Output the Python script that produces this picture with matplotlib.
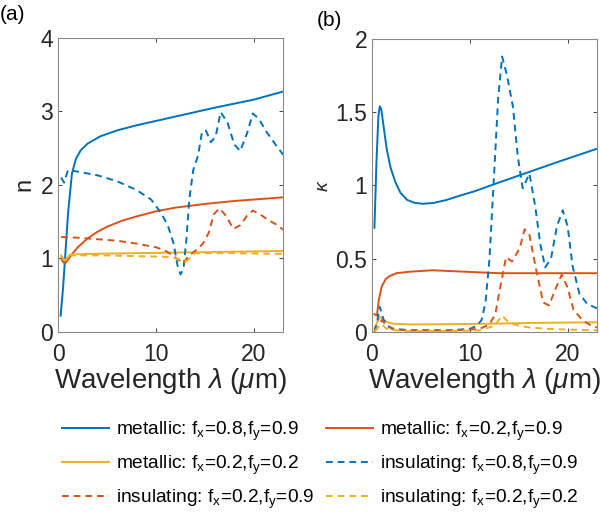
import matplotlib.pyplot as plt

plt.rcParams['font.family'] = ['Liberation Sans', 'DejaVu Sans']
plt.rcParams['mathtext.fontset'] = 'custom'
plt.rcParams['mathtext.rm'] = 'Liberation Sans'
plt.rcParams['mathtext.it'] = 'Liberation Sans:italic'

blue = '#0072BD'
orange = '#D95319'
yellow = '#EDB120'

# ---- panel (a): refractive index n ----
# metallic fx=0.8, fy=0.9
xa_m1 = [0.25, 0.5, 0.7, 1.0, 1.4, 1.8, 2.3, 3, 4.3, 6, 8, 10, 13, 16, 20, 23]
na_m1 = [0.22, 0.6, 1.0, 1.6, 2.15, 2.35, 2.47, 2.56, 2.66, 2.74, 2.81, 2.87, 2.96, 3.05, 3.16, 3.27]
# metallic fx=0.2, fy=0.9
xa_m2 = [0.3, 0.5, 0.7, 1.0, 1.5, 2, 3, 4, 5, 6.5, 8, 10, 12, 15, 18, 20, 23]
na_m2 = [1.0, 0.95, 0.93, 0.98, 1.07, 1.15, 1.27, 1.36, 1.43, 1.51, 1.57, 1.64, 1.69, 1.74, 1.78, 1.8, 1.83]
# metallic fx=0.2, fy=0.2
xa_m3 = [0.3, 0.5, 0.7, 0.9, 1.2, 3, 8, 13, 18, 23]
na_m3 = [1.04, 1.0, 0.97, 1.0, 1.05, 1.06, 1.07, 1.08, 1.09, 1.1]
# insulating fx=0.8, fy=0.9
xa_i1 = [0.3, 0.6, 1.0, 2, 4, 6, 8, 9.5, 10.5, 11.2, 11.8, 12.2, 12.5, 12.8, 13.1, 13.4, 13.8, 14.3,
         14.7, 15.1, 15.6, 16.1, 16.6, 17.3, 18.0, 18.6, 19.3, 19.9, 20.5, 21.3, 22.2, 23]
na_i1 = [2.1, 2.03, 2.2, 2.18, 2.13, 2.05, 1.93, 1.8, 1.62, 1.45, 1.2, 0.9, 0.78, 0.85, 1.25, 1.8, 2.2, 2.4,
         2.72, 2.74, 2.58, 2.66, 2.99, 2.85, 2.55, 2.46, 2.7, 2.97, 2.9, 2.72, 2.55, 2.41]
# insulating fx=0.2, fy=0.9
xa_i2 = [0.3, 2, 4, 6, 8, 10, 11, 11.8, 12.3, 12.8, 13.3, 14, 14.8, 15.4, 15.9, 16.5, 17.2, 17.9,
         18.6, 19.3, 19.9, 20.6, 21.5, 22.3, 23]
na_i2 = [1.29, 1.28, 1.26, 1.24, 1.2, 1.15, 1.1, 1.03, 0.98, 0.93, 1.03, 1.1, 1.2, 1.35, 1.6, 1.68, 1.57, 1.4,
         1.45, 1.58, 1.65, 1.6, 1.52, 1.46, 1.39]
# insulating fx=0.2, fy=0.2
xa_i3 = [0.3, 0.5, 0.7, 0.9, 1.2, 4, 8, 11, 12, 12.6, 13.1, 13.6, 14, 18, 23]
na_i3 = [1.03, 1.0, 0.97, 1.0, 1.04, 1.04, 1.03, 1.02, 1.0, 0.98, 0.96, 1.02, 1.07, 1.07, 1.06]

# ---- panel (b): extinction coefficient kappa ----
xb_m1 = [0.25, 0.45, 0.65, 0.8, 0.95, 1.15, 1.5, 1.9, 2.4, 2.9, 3.6, 4.4, 5.2, 6.3, 7.6, 9, 10.5, 13, 16, 19, 23]
kb_m1 = [0.71, 1.15, 1.47, 1.54, 1.52, 1.42, 1.25, 1.12, 1.02, 0.95, 0.9, 0.88, 0.874, 0.88, 0.9, 0.93, 0.96,
         1.02, 1.09, 1.16, 1.25]
xb_m2 = [0.25, 0.5, 0.7, 1.0, 1.4, 1.8, 2.5, 3.8, 6.2, 9.6, 13, 18, 23]
kb_m2 = [0.12, 0.11, 0.22, 0.31, 0.36, 0.38, 0.4, 0.41, 0.42, 0.41, 0.4, 0.4, 0.4]
xb_m3 = [0.25, 0.5, 0.8, 1.2, 1.6, 2.2, 4, 8, 12, 16, 20, 23]
kb_m3 = [0.02, 0.06, 0.1, 0.08, 0.065, 0.055, 0.05, 0.052, 0.055, 0.06, 0.063, 0.065]
xb_i1 = [0.25, 0.5, 0.8, 1.2, 1.6, 2.2, 4, 6, 8, 10, 10.7, 11.2, 11.6, 12.0, 12.5, 12.9, 13.3, 13.8,
         14.4, 14.9, 15.4, 16.1, 16.7, 17.2, 17.7, 18.3, 18.9, 19.5, 20.0, 20.5, 21.2, 22, 23]
kb_i1 = [0.0, 0.06, 0.17, 0.08, 0.04, 0.02, 0.01, 0.01, 0.01, 0.02, 0.04, 0.08, 0.2, 0.49, 1.1, 1.6, 1.88, 1.75,
         1.54, 1.2, 0.98, 1.08, 0.85, 0.6, 0.44, 0.5, 0.72, 0.83, 0.72, 0.45, 0.26, 0.19, 0.16]
xb_i2 = [0.25, 0.6, 1.0, 1.5, 2.2, 4, 8, 10, 11, 12, 12.6, 13.1, 13.7, 14.3, 15.1, 15.6, 16.1, 16.7, 17.5,
         18.1, 18.8, 19.4, 20.0, 20.6, 21.5, 22.2, 23]
kb_i2 = [0.0, 0.03, 0.08, 0.04, 0.015, 0.01, 0.01, 0.015, 0.02, 0.05, 0.12, 0.3, 0.51, 0.48, 0.57, 0.7, 0.66, 0.45,
         0.2, 0.18, 0.3, 0.39, 0.3, 0.15, 0.08, 0.05, 0.03]
xb_i3 = [0.25, 0.6, 1.0, 1.5, 3, 8, 11, 12.5, 13.3, 13.9, 14.5, 16, 18, 20, 23]
kb_i3 = [0.0, 0.03, 0.05, 0.02, 0.005, 0.005, 0.01, 0.04, 0.11, 0.07, 0.05, 0.03, 0.02, 0.015, 0.01]

labels = ['metallic: f$_\\mathrm{x}$=0.8,f$_\\mathrm{y}$=0.9',
          'metallic: f$_\\mathrm{x}$=0.2,f$_\\mathrm{y}$=0.9',
          'metallic: f$_\\mathrm{x}$=0.2,f$_\\mathrm{y}$=0.2',
          'insulating: f$_\\mathrm{x}$=0.8,f$_\\mathrm{y}$=0.9',
          'insulating: f$_\\mathrm{x}$=0.2,f$_\\mathrm{y}$=0.9',
          'insulating: f$_\\mathrm{x}$=0.2,f$_\\mathrm{y}$=0.2']
colors = [blue, orange, yellow, blue, orange, yellow]
styles = ['-', '-', '-', (0, (3.5, 2.5)), (0, (3.5, 2.5)), (0, (3.5, 2.5))]

data_a = [(xa_m1, na_m1), (xa_m2, na_m2), (xa_m3, na_m3), (xa_i1, na_i1), (xa_i2, na_i2), (xa_i3, na_i3)]
data_b = [(xb_m1, kb_m1), (xb_m2, kb_m2), (xb_m3, kb_m3), (xb_i1, kb_i1), (xb_i2, kb_i2), (xb_i3, kb_i3)]

fig = plt.figure(figsize=(6, 5.12), dpi=100)
ax1 = fig.add_axes([0.097, 0.352, 0.375, 0.574])
ax2 = fig.add_axes([0.62, 0.352, 0.375, 0.572])

handles = []
for i in range(6):
    h, = ax1.plot(data_a[i][0], data_a[i][1], color=colors[i], ls=styles[i], lw=1.4)
    ax2.plot(data_b[i][0], data_b[i][1], color=colors[i], ls=styles[i], lw=1.4)
    handles.append(h)

for ax in (ax1, ax2):
    ax.set_xlim(0, 23)
    ax.set_xticks([0, 10, 20])
    ax.tick_params(direction='in', top=True, right=True, labelsize=16.5, colors='#262626',
                   length=3, width=0.6)
    ax.tick_params(axis='x', pad=8)
    for s in ax.spines.values():
        s.set_color('#8a8a8a')
        s.set_linewidth(0.8)
    ax.set_xlabel('Wavelength $\\lambda$ ($\\mu$m)', fontsize=20, color='#262626', labelpad=0)

ax1.set_ylim(0, 4)
ax1.set_yticks([0, 1, 2, 3, 4])
ax1.set_ylabel('n', fontsize=17, color='#262626', labelpad=4)
ax2.set_ylim(0, 2)
ax2.set_yticks([0, 0.5, 1, 1.5, 2])
ax2.set_yticklabels(['0', '0.5', '1', '1.5', '2'])
ax2.set_ylabel('$\\kappa$', fontsize=14, color='#262626', labelpad=2)

fig.text(0.0, 0.99, '(a)', fontsize=15, va='top', ha='left')
fig.text(0.528, 0.978, '(b)', fontsize=15, va='top', ha='left')

# legend filled row-wise like the original: reorder for column-major fill
order = [0, 2, 4, 1, 3, 5]
fig.legend([handles[i] for i in order], [labels[i] for i in order], ncol=2,
           loc='upper center', bbox_to_anchor=(0.534, 0.195), frameon=False,
           fontsize=13.8, handlelength=2.45, handletextpad=0.36, columnspacing=0.57,
           labelspacing=0.55, borderaxespad=0)

fig.savefig('out.png', dpi=100)
